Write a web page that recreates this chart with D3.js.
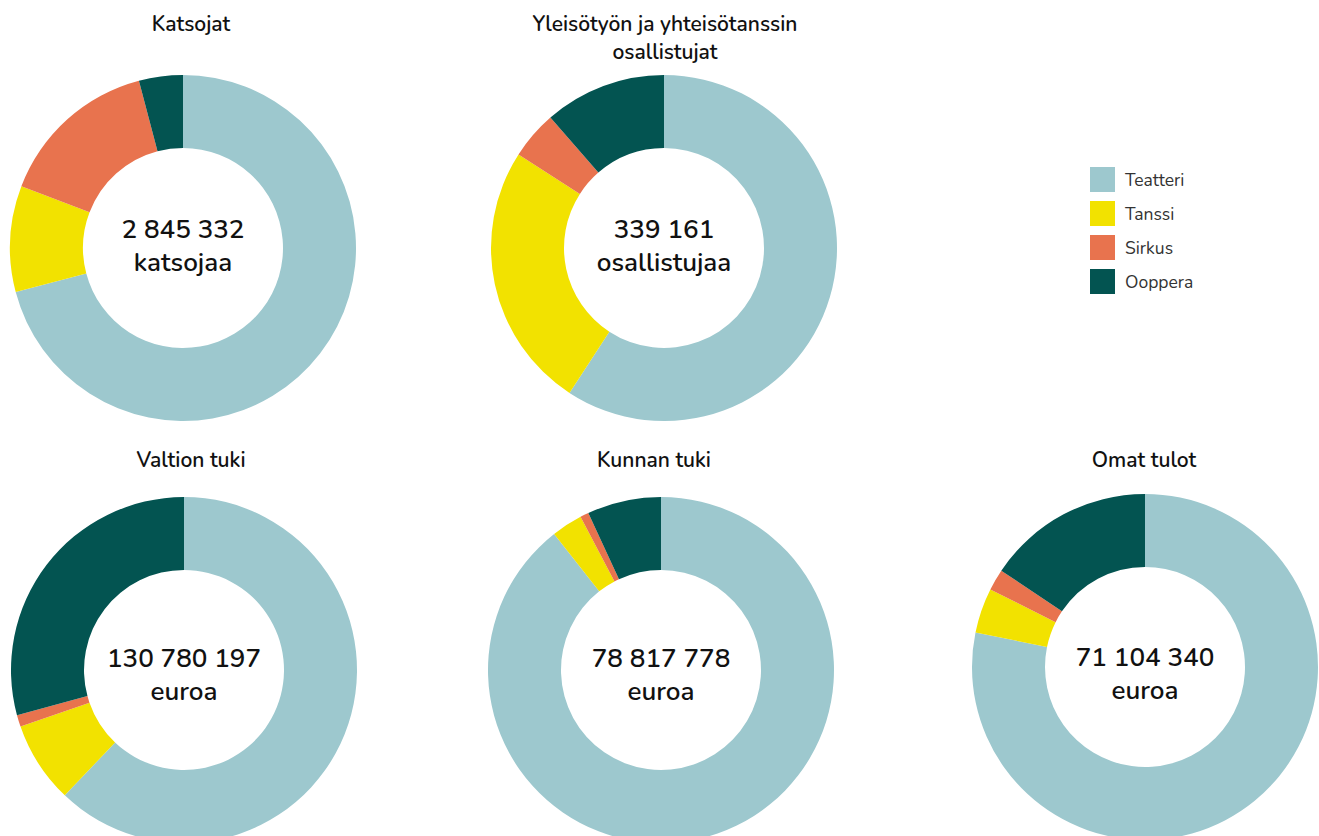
<!DOCTYPE html>
<html>
<head>
<meta charset="utf-8">
<script src="https://cdn.jsdelivr.net/npm/d3@7"></script>
<style>
  body { margin: 0; background: #fff; }
  svg text { font-family: "Nunito", "Lato", "Open Sans", sans-serif; fill: #111; }
</style>
</head>
<body>
<script>
var categories = ['Teatteri', 'Tanssi', 'Sirkus', 'Ooppera'];
var colors = ['#9dc8ce', '#f2e200', '#e8734e', '#035451'];

var titles = [
  ['Katsojat'],
  ['Yleisötyön ja yhteisötanssin', 'osallistujat'],
  ['Valtion tuki'],
  ['Kunnan tuki'],
  ['Omat tulot']
];
var totals = ['2 845 332', '339 161', '130 780 197', '78 817 778', '71 104 340'];
var units = ['katsojaa', 'osallistujaa', 'euroa', 'euroa', 'euroa'];

// shares in percent, order: Teatteri, Tanssi, Sirkus, Ooppera
var katsojat = [70.9, 9.9, 15.1, 4.1];
var osallistujat = [59.2, 24.9, 4.5, 11.4];
var valtionTuki = [62.1, 7.6, 1.1, 29.2];
var kunnanTuki = [89.4, 2.9, 0.8, 6.9];
var omatTulot = [78.2, 4.2, 2.0, 15.6];
var series = [katsojat, osallistujat, valtionTuki, kunnanTuki, omatTulot];

var width = 1319, height = 836;
var outerR = 173, innerR = 100;
var centers = [[183, 248], [664, 248], [184, 670], [661, 670], [1145, 667]];
var titleX = [191, 665, 191, 654, 1144];
var titleY = [[31], [31, 59], [467], [467], [467]];
var labelY = [[-10, 23], [-10, 23], [-3, 30], [-3, 30], [-1, 32]];

var color = d3.scaleOrdinal().domain(categories).range(colors);

var svg = d3.select('body').append('svg')
  .attr('width', width)
  .attr('height', height);

var pie = d3.pie().sort(null).value(function (d) { return d.v; });
var arc = d3.arc().innerRadius(innerR).outerRadius(outerR);

series.forEach(function (vals, i) {
  var data = vals.map(function (v, j) { return { c: categories[j], v: v }; });
  var g = svg.append('g')
    .attr('transform', 'translate(' + centers[i][0] + ',' + centers[i][1] + ')');

  g.selectAll('path').data(pie(data)).enter().append('path')
    .attr('d', arc)
    .attr('fill', function (d) { return color(d.data.c); });

  g.append('text')
    .attr('text-anchor', 'middle')
    .attr('y', labelY[i][0])
    .style('font-size', '26px')
    .style('font-weight', 600)
    .text(totals[i]);
  g.append('text')
    .attr('text-anchor', 'middle')
    .attr('y', labelY[i][1])
    .style('font-size', '26px')
    .style('font-weight', 600)
    .text(units[i]);

  titles[i].forEach(function (t, k) {
    svg.append('text')
      .attr('x', titleX[i])
      .attr('y', titleY[i][k])
      .attr('text-anchor', 'middle')
      .style('font-size', '21px')
      .style('font-weight', 600)
      .text(t);
  });
});

// legend
var legend = svg.append('g').attr('transform', 'translate(1090,167)');
var item = legend.selectAll('g').data(categories).enter().append('g')
  .attr('transform', function (d, i) { return 'translate(0,' + (i * 34) + ')'; });
item.append('rect')
  .attr('width', 25).attr('height', 25)
  .attr('fill', function (d) { return color(d); });
item.append('text')
  .attr('x', 35).attr('y', 19)
  .style('font-size', '17.5px')
  .style('fill', '#333')
  .text(function (d) { return d; });
</script>
</body>
</html>
